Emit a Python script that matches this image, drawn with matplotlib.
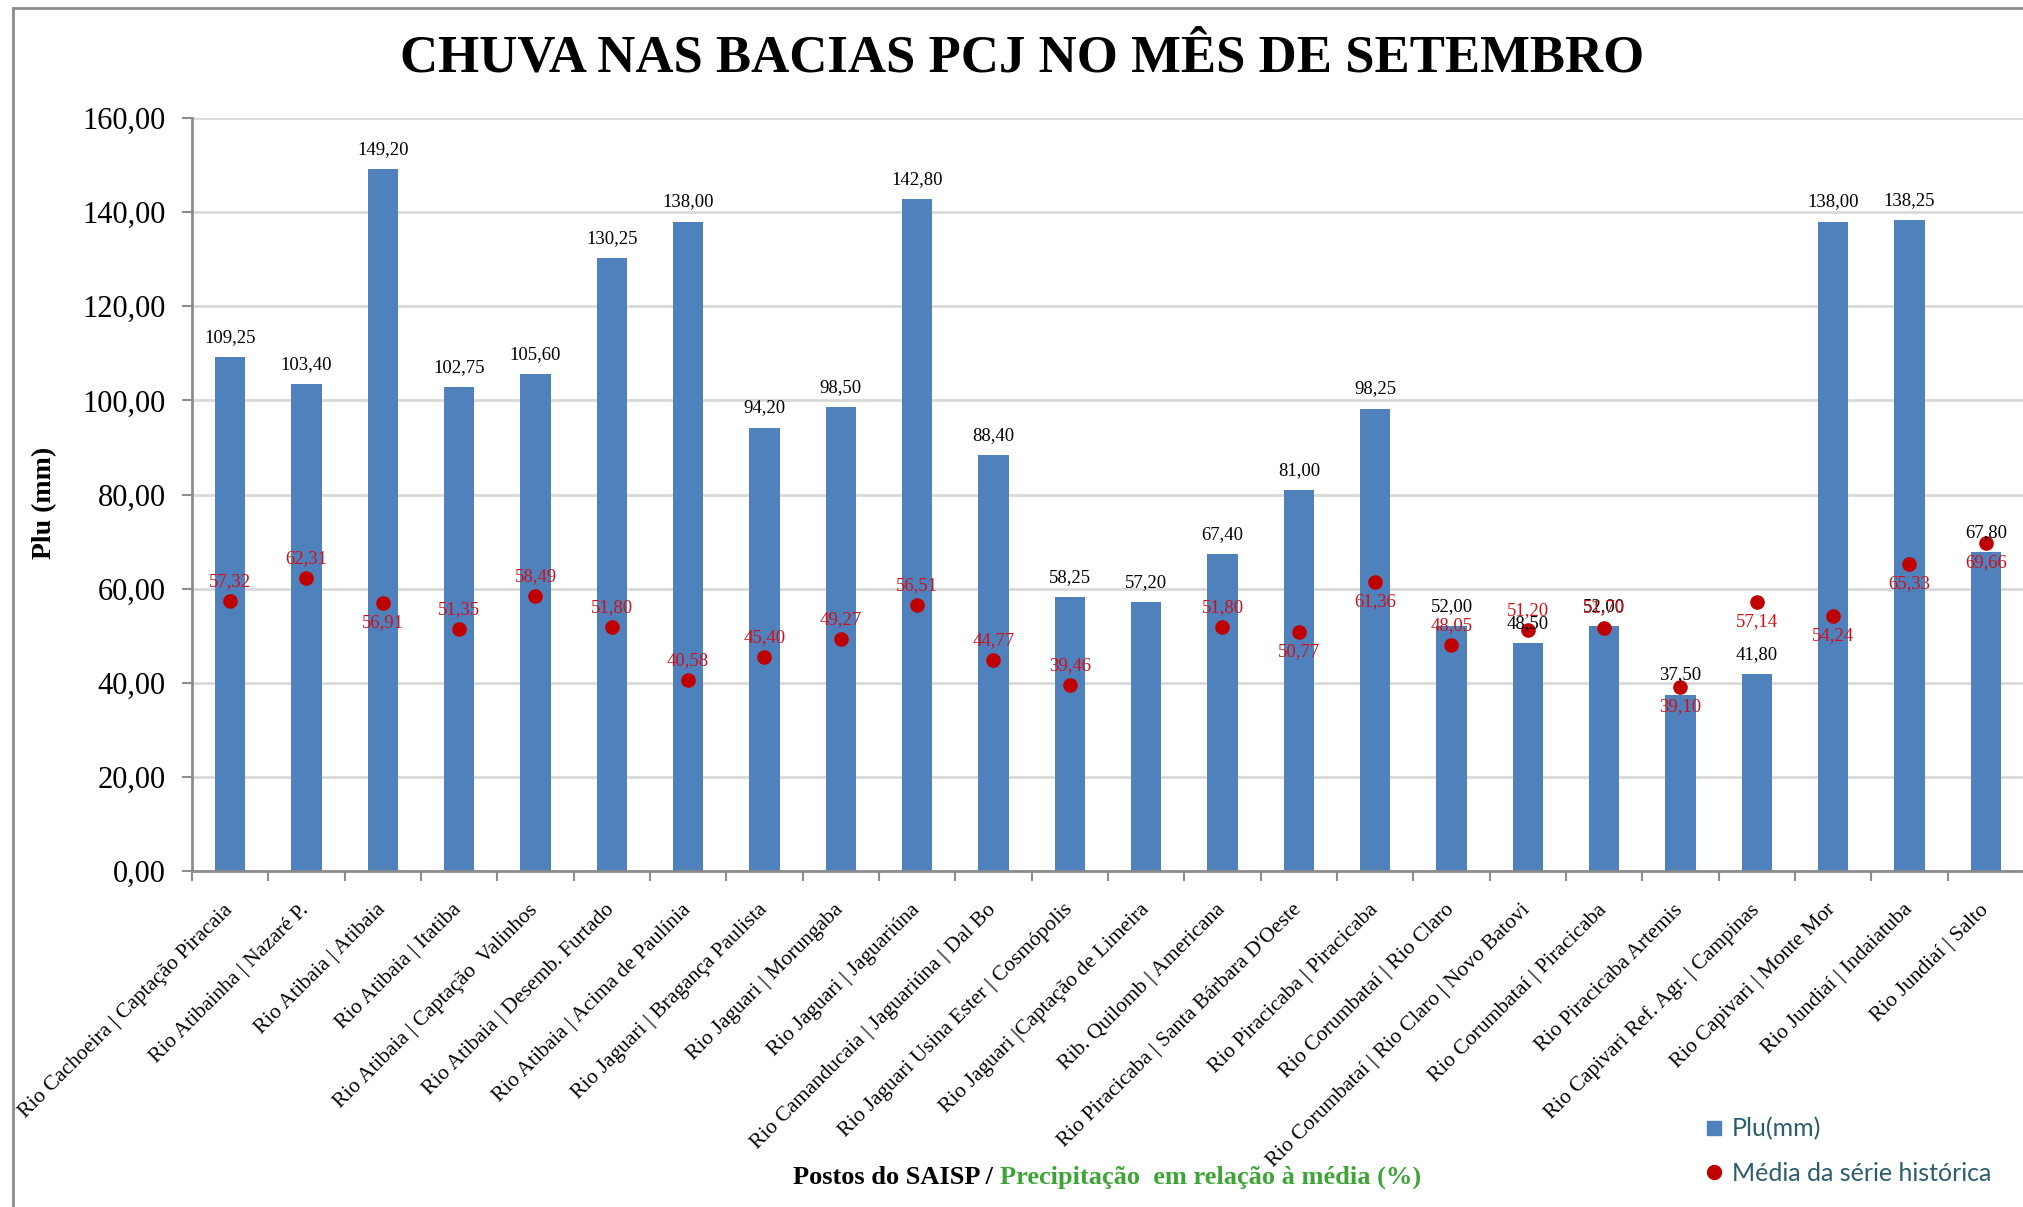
import numpy as np
import matplotlib
matplotlib.use("Agg")
import matplotlib.pyplot as plt
from matplotlib.lines import Line2D

# ---------------- data ----------------
stations = [
    "Rio Cachoeira | Captação Piracaia",
    "Rio Atibainha | Nazaré P.",
    "Rio Atibaia | Atibaia",
    "Rio Atibaia | Itatiba",
    "Rio Atibaia | Captação  Valinhos",
    "Rio Atibaia | Desemb. Furtado",
    "Rio Atibaia | Acima de Paulínia",
    "Rio Jaguari | Bragança Paulista",
    "Rio Jaguari | Morungaba",
    "Rio Jaguari | Jaguariúna",
    "Rio Camanducaia | Jaguariúna | Dal Bo",
    "Rio Jaguari Usina Ester | Cosmópolis",
    "Rio Jaguari |Captação de Limeira",
    "Rib. Quilomb | Americana",
    "Rio Piracicaba | Santa Bárbara D'Oeste",
    "Rio Piracicaba | Piracicaba",
    "Rio Corumbataí | Rio Claro",
    "Rio Corumbataí | Rio Claro | Novo Batovi",
    "Rio Corumbataí | Piracicaba",
    "Rio Piracicaba Artemis",
    "Rio Capivari Ref. Agr. | Campinas",
    "Rio Capivari | Monte Mor",
    "Rio Jundiaí | Indaiatuba",
    "Rio Jundiaí | Salto",
]
plu_mm = [109.25, 103.40, 149.20, 102.75, 105.60, 130.25, 138.00, 94.20,
          98.50, 142.80, 88.40, 58.25, 57.20, 67.40, 81.00, 98.25,
          52.00, 48.50, 52.00, 37.50, 41.80, 138.00, 138.25, 67.80]
media_pct = [57.32, 62.31, 56.91, 51.35, 58.49, 51.80, 40.58, 45.40,
             49.27, 56.51, 44.77, 39.46, np.nan, 51.80, 50.77, 61.36,
             48.05, 51.20, 51.70, 39.10, 57.14, 54.24, 65.33, 69.66]
# +1: label above the dot, -1: label below the dot
media_label_side = [1, 1, -1, 1, 1, 1, 1, 1, 1, 1, 1, 1, 0, 1, -1, -1,
                    1, 1, 1, -1, -1, -1, -1, -1]
y_ticks = [0, 20, 40, 60, 80, 100, 120, 140, 160]

title = "CHUVA NAS BACIAS PCJ NO MÊS DE SETEMBRO"
legend_labels = ["Plu(mm)", "Média da série histórica"]


def br(v):
    return f"{v:.2f}".replace(".", ",")


# ---------------- style ----------------
BAR = "#4F81BD"
DOT = "#C00000"
DOTTXT = "#D01018"
GRID = "#D9D9D9"
AX = "#8C8C8C"
SERIF = ["Liberation Serif", "DejaVu Serif"]

W, H = 2024, 1207
fig = plt.figure(figsize=(W / 100, H / 100), dpi=100)
fig.patch.set_facecolor("white")

ax = fig.add_axes([192 / W, 1 - 871 / H, (W - 192) / W, (871 - 118) / H])
x = np.arange(len(stations))

bars = ax.bar(x, plu_mm, width=0.4, color=BAR, zorder=2)
dots, = ax.plot(x, media_pct, linestyle="none", marker="o", markersize=9.5,
                color=DOT, zorder=4)

# value labels
for xi, v in zip(x, plu_mm):
    ax.annotate(br(v), (xi, v), xytext=(0, 8), textcoords="offset points",
                ha="center", va="bottom", fontsize=13.5, family=SERIF,
                color="black", zorder=5)
for xi, v, s in zip(x, media_pct, media_label_side):
    if np.isnan(v):
        continue
    ax.annotate(br(v), (xi, v), xytext=(0, 8 * s), textcoords="offset points",
                ha="center", va="bottom" if s > 0 else "top", fontsize=13.5,
                family=SERIF, color=DOTTXT, zorder=5)

ax.set_xlim(-0.5, len(stations) - 0.5)
ax.set_ylim(0, 160)
ax.set_yticks(y_ticks)
ax.set_yticklabels([br(t) for t in y_ticks], fontsize=22, family=SERIF)
ax.yaxis.grid(True, color=GRID, linewidth=2, zorder=0)
ax.set_axisbelow(True)

ax.set_xticks(x)
ax.set_xticklabels(stations, fontsize=15.5, family=SERIF)
ax.set_xticks(np.arange(-0.5, len(stations) + 0.5, 1), minor=True)
ax.tick_params(axis="x", which="major", length=0, pad=26)
ax.tick_params(axis="x", which="minor", length=7, width=1.5, color=AX)
ax.tick_params(axis="y", length=7, width=1.5, color=AX, pad=12)
for lab in ax.get_xticklabels():
    lab.set_rotation(45)
    lab.set_ha("right")
    lab.set_va("center")
    lab.set_rotation_mode("anchor")

for side in ["top", "right"]:
    ax.spines[side].set_visible(False)
for side in ["left", "bottom"]:
    ax.spines[side].set_color(AX)
    ax.spines[side].set_linewidth(2)

# title and axis titles
fig.text(1022 / W, 1 - 58 / H, title, ha="center", va="center",
         fontsize=38, fontweight="bold", family=SERIF)
fig.text(45 / W, 1 - 503 / H, "Plu (mm)", rotation=90, ha="center",
         va="center", fontsize=20, fontweight="bold", family=SERIF)

t1 = fig.text(793 / W, 1 - 1177 / H, "Postos do SAISP / ", ha="left",
              va="center", fontsize=19, fontweight="bold", family=SERIF,
              color="black")
fig.canvas.draw()
bb = t1.get_window_extent()
fig.text(bb.x1 / W, 1 - 1177 / H, "Precipitação  em relação à média (%)",
         ha="left", va="center", fontsize=19, fontweight="bold",
         family=SERIF, color="#3DA535")

# legend
sq = Line2D([], [], linestyle="none", marker="s", markersize=10.5,
            color=BAR)
dt = Line2D([], [], linestyle="none", marker="o", markersize=10,
            color=DOT)
leg = fig.legend([sq, dt], legend_labels, loc="center left",
                 bbox_to_anchor=(1682 / W, 1 - 1151 / H), frameon=False,
                 handlelength=0.8, handletextpad=0.3, labelspacing=0.85,
                 prop={"family": ["Lato", "DejaVu Sans"], "size": 18})
for t in leg.get_texts():
    t.set_color("#2B5D6B")

# outer frame (top and left edges visible)
fig.add_artist(Line2D([13 / W, 13 / W], [0, 1 - 8 / H],
                      transform=fig.transFigure, color=AX, linewidth=2))
fig.add_artist(Line2D([13 / W, 1], [1 - 8 / H, 1 - 8 / H],
                      transform=fig.transFigure, color=AX, linewidth=2))

fig.savefig("out.png", dpi=100, facecolor="white")
